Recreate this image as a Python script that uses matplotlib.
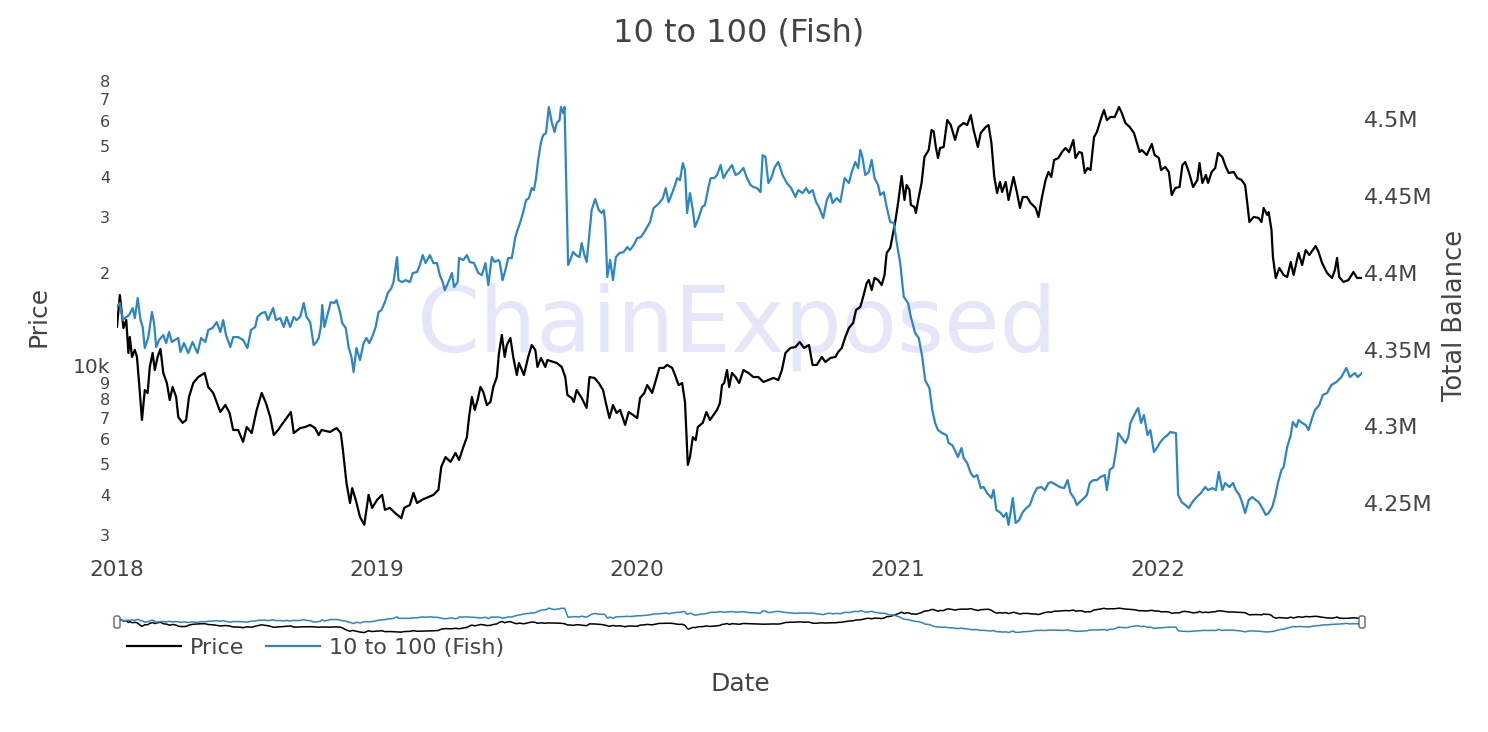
import numpy as np
import matplotlib
matplotlib.use("Agg")
import matplotlib.pyplot as plt
import matplotlib.dates as mdates
from matplotlib.ticker import FixedLocator, NullLocator, FixedFormatter
from matplotlib.patches import FancyBboxPatch
from matplotlib.lines import Line2D
from matplotlib.transforms import IdentityTransform, ScaledTranslation

# ---- data ----
START = np.datetime64("2018-01-01")

# days since 2018-01-01 / BTC price in USD
price_day = [
    0, 4, 9, 13, 16, 18, 21, 25, 28, 31, 35, 39,
    43, 46, 50, 53, 57, 61, 65, 70, 74, 78, 83, 86,
    92, 97, 101, 107, 114, 123, 128, 135, 145, 152, 158, 163,
    170, 177, 182, 189, 196, 203, 209, 215, 220, 226, 233, 238,
    244, 248, 257, 264, 271, 278, 283, 287, 299, 308, 314, 317,
    322, 327, 330, 335, 341, 347, 353, 358, 365, 372, 376, 383,
    390, 399, 403, 411, 416, 421, 428, 437, 444, 451, 455, 461,
    468, 475, 480, 486, 491, 494, 498, 502, 506, 510, 514, 519,
    524, 528, 533, 536, 540, 544, 547, 552, 556, 561, 564, 571,
    577, 582, 587, 590, 595, 601, 604, 613, 617, 624, 629, 632,
    638, 641, 645, 652, 659, 663, 670, 676, 682, 686, 691, 696,
    701, 706, 713, 718, 724, 730, 734, 740, 744, 751, 755, 761,
    767, 772, 779, 783, 788, 793, 797, 801, 804, 808, 812, 815,
    822, 827, 832, 837, 842, 846, 849, 852, 856, 859, 863, 868,
    873, 879, 886, 893, 900, 907, 914, 921, 928, 933, 938, 945,
    952, 958, 964, 971, 976, 982, 989, 994, 1001, 1008, 1012, 1017,
    1022, 1027, 1033, 1037, 1043, 1047, 1052, 1055, 1059, 1063, 1068, 1073,
    1077, 1080, 1085, 1088, 1092, 1096, 1099, 1101, 1105, 1108, 1112, 1114,
    1119, 1121, 1125, 1129, 1133, 1139, 1143, 1146, 1149, 1152, 1155, 1160,
    1165, 1170, 1176, 1181, 1188, 1193, 1198, 1202, 1208, 1212, 1219, 1223,
    1227, 1231, 1235, 1239, 1242, 1247, 1251, 1258, 1263, 1267, 1271, 1277,
    1282, 1289, 1293, 1298, 1303, 1307, 1311, 1315, 1321, 1326, 1331, 1336,
    1342, 1345, 1350, 1354, 1358, 1362, 1366, 1371, 1375, 1381, 1385, 1389,
    1394, 1400, 1406, 1410, 1415, 1421, 1427, 1432, 1435, 1438, 1445, 1452,
    1456, 1462, 1465, 1471, 1476, 1480, 1485, 1491, 1495, 1499, 1504, 1510,
    1516, 1519, 1523, 1528, 1531, 1536, 1541, 1545, 1551, 1556, 1560, 1567,
    1572, 1578, 1583, 1586, 1589, 1595, 1602, 1606, 1609, 1614, 1616, 1620,
    1622, 1626, 1631, 1637, 1642, 1647, 1651, 1658, 1663, 1668, 1673, 1682,
    1686, 1691, 1698, 1705, 1709, 1712, 1715, 1721, 1728, 1735, 1740, 1747,
]
price_usd = [
    13530, 17010, 13400, 14200, 11190, 12560, 10870, 11430, 10870, 9000, 6890, 8560,
    8380, 10110, 11190, 9890, 10870, 11510, 9680, 9000, 7960, 8750, 8140, 7040,
    6750, 6890, 8140, 9000, 9400, 9680, 8750, 8380, 7300, 7680, 7250, 6410,
    6410, 5880, 6550, 6270, 7410, 8380, 7790, 7040, 6180, 6410, 6750, 6990,
    7300, 6270, 6500, 6550, 6650, 6500, 6180, 6410, 6320, 6500, 6270, 5550,
    4370, 3780, 4210, 3870, 3420, 3230, 4010, 3650, 3870, 4010, 3600, 3650,
    3520, 3390, 3650, 3730, 4070, 3780, 3870, 3950, 4010, 4160, 4910, 5270,
    5090, 5430, 5160, 5670, 6090, 7040, 8140, 7410, 7960, 8750, 8440, 7680,
    7850, 8750, 9400, 11190, 12740, 10870, 11850, 12470, 10870, 9540, 10410, 9540,
    10870, 11850, 11430, 10110, 10790, 10110, 10630, 10480, 10410, 10110, 9400, 8260,
    8080, 7850, 8560, 8080, 7520, 9400, 9340, 9000, 8560, 7790, 6990, 7680,
    7250, 7410, 6650, 7300, 7150, 6990, 8080, 8380, 8870, 8380, 9000, 10040,
    10040, 10260, 10040, 9540, 8870, 9000, 7850, 4980, 5270, 6090, 5960, 6550,
    6750, 7300, 6890, 7150, 7410, 7790, 8870, 9000, 9890, 8750, 9680, 9400,
    9000, 9890, 9680, 9400, 9400, 9070, 9200, 9340, 9200, 9890, 11190, 11600,
    11680, 12110, 11600, 11850, 10260, 10260, 10870, 10480, 10790, 10870, 11270, 11600,
    12560, 13400, 13900, 15270, 15600, 16770, 18550, 18960, 17640, 19240, 18960, 18290,
    19660, 23050, 23900, 25880, 28840, 33080, 37140, 40230, 33810, 37680, 36340, 32610,
    32150, 30780, 34550, 38240, 46130, 48530, 56100, 55500, 49600, 45800, 49250, 49600,
    60280, 58140, 52180, 57310, 58990, 58140, 62490, 56100, 49600, 54900, 57310, 58140,
    51050, 39940, 35560, 38520, 35830, 38520, 33810, 39940, 35560, 31920, 34550, 34550,
    33080, 31920, 29910, 34550, 39070, 41400, 39940, 45150, 45800, 47830, 49250, 47830,
    52180, 45800, 47830, 47490, 41100, 42610, 42000, 53320, 55280, 61160, 64800, 60280,
    61600, 61600, 66220, 63420, 58990, 57310, 54900, 50320, 47830, 48530, 46810, 50690,
    46810, 45800, 42000, 42920, 41400, 35050, 36880, 37140, 43540, 44500, 41400, 37140,
    39070, 44180, 38240, 40510, 38240, 41400, 42610, 47490, 46130, 42920, 41100, 41400,
    39640, 39070, 37680, 33080, 28840, 29910, 29690, 28840, 31920, 30340, 31000, 27210,
    22390, 19240, 20680, 19660, 19380, 21600, 19660, 23050, 21130, 23560, 22720, 24240,
    23220, 21440, 19940, 19240, 20390, 22230, 19380, 18690, 18960, 20090, 19240, 19240,
]

# days since 2018-01-01 / total balance held by 10-100 BTC wallets
fish_day = [
    0, 4, 8, 13, 17, 22, 25, 29, 33, 36, 39, 44,
    49, 52, 55, 59, 65, 69, 73, 77, 81, 86, 89, 94,
    100, 106, 113, 118, 124, 128, 134, 140, 145, 149, 153, 159,
    163, 170, 177, 183, 188, 194, 197, 203, 208, 212, 219, 223,
    229, 234, 238, 243, 248, 252, 257, 262, 266, 271, 276, 280,
    283, 286, 288, 291, 296, 300, 305, 308, 313, 316, 321, 325,
    329, 332, 336, 341, 346, 350, 354, 358, 363, 367, 371, 376,
    380, 385, 388, 393, 395, 400, 405, 411, 415, 421, 425, 429,
    433, 439, 444, 449, 453, 457, 460, 465, 470, 473, 478, 480,
    486, 491, 495, 501, 507, 512, 517, 521, 526, 530, 535, 537,
    541, 545, 549, 554, 559, 562, 566, 570, 574, 578, 582, 585,
    588, 591, 595, 598, 602, 606, 610, 614, 617, 621, 623, 626,
    628, 633, 636, 640, 644, 649, 652, 656, 659, 663, 666, 671,
    676, 680, 683, 685, 688, 692, 696, 700, 705, 711, 716, 720,
    725, 730, 735, 740, 744, 748, 753, 758, 762, 766, 770, 774,
    779, 783, 786, 790, 794, 797, 800, 804, 808, 811, 816, 821,
    825, 830, 833, 838, 842, 847, 851, 856, 860, 863, 868, 873,
    879, 884, 889, 893, 898, 903, 906, 910, 914, 918, 923, 928,
    934, 940, 946, 952, 956, 962, 967, 971, 976, 981, 985, 991,
    996, 1001, 1004, 1010, 1015, 1021, 1027, 1031, 1036, 1040, 1043, 1046,
    1050, 1055, 1059, 1063, 1068, 1071, 1076, 1080, 1085, 1090, 1094, 1099,
    1104, 1110, 1114, 1120, 1125, 1130, 1134, 1140, 1144, 1148, 1152, 1158,
    1164, 1167, 1172, 1177, 1180, 1185, 1188, 1193, 1198, 1202, 1207, 1212,
    1216, 1221, 1227, 1230, 1234, 1240, 1244, 1248, 1251, 1257, 1261, 1266,
    1271, 1276, 1281, 1286, 1291, 1297, 1302, 1307, 1311, 1318, 1323, 1329,
    1334, 1338, 1343, 1347, 1351, 1357, 1361, 1365, 1370, 1375, 1380, 1386,
    1389, 1393, 1398, 1402, 1405, 1410, 1415, 1419, 1422, 1426, 1431, 1433,
    1437, 1441, 1446, 1450, 1455, 1460, 1464, 1469, 1474, 1478, 1486, 1489,
    1494, 1499, 1504, 1509, 1515, 1521, 1527, 1531, 1537, 1542, 1546, 1551,
    1555, 1561, 1566, 1570, 1575, 1579, 1583, 1588, 1593, 1598, 1602, 1607,
    1612, 1616, 1621, 1625, 1629, 1634, 1637, 1642, 1647, 1650, 1655, 1658,
    1663, 1668, 1672, 1677, 1681, 1687, 1692, 1698, 1704, 1711, 1718, 1725,
    1730, 1737, 1741, 1747,
]
fish_balance = [
    4377900, 4380300, 4369200, 4371200, 4372500, 4377000, 4370500, 4383500, 4369200, 4364700, 4351000, 4358100,
    4374400, 4367300, 4351600, 4356200, 4359400, 4354200, 4361400, 4354900, 4356200, 4357500, 4348400, 4354200,
    4347700, 4354900, 4347700, 4357500, 4354900, 4362700, 4364000, 4367900, 4361400, 4369200, 4359400, 4351600,
    4358100, 4358100, 4356200, 4351000, 4362700, 4364700, 4371200, 4373800, 4374400, 4369200, 4377000, 4369200,
    4370500, 4364700, 4371200, 4364700, 4371200, 4369200, 4371200, 4380300, 4371200, 4367900, 4352900, 4354900,
    4357500, 4364700, 4379000, 4364700, 4373800, 4380900, 4380300, 4382200, 4374400, 4367300, 4364000, 4351600,
    4345100, 4335400, 4351000, 4343200, 4354200, 4357500, 4354200, 4358100, 4364700, 4374400, 4375700, 4380900,
    4386800, 4390000, 4393900, 4410200, 4395200, 4393900, 4395200, 4393900, 4399800, 4400500, 4405000, 4411500,
    4406300, 4411500, 4406300, 4406300, 4398500, 4393900, 4388700, 4393900, 4399800, 4390700, 4393900, 4409600,
    4408300, 4411500, 4407000, 4406300, 4399800, 4398500, 4406300, 4392000, 4410200, 4407000, 4408300, 4407000,
    4395200, 4401800, 4409600, 4409600, 4423200, 4427800, 4433000, 4439500, 4447300, 4448600, 4455100, 4453800,
    4461600, 4473400, 4485100, 4489600, 4490900, 4507900, 4498100, 4491600, 4497500, 4499400, 4507900, 4504000,
    4507900, 4405000, 4408300, 4413500, 4411500, 4410200, 4419300, 4411500, 4407000, 4425800, 4440800, 4448000,
    4440800, 4438900, 4440800, 4433000, 4397200, 4408300, 4395200, 4410200, 4412800, 4413500, 4416700, 4414800,
    4418000, 4422600, 4423200, 4426500, 4429800, 4433000, 4442100, 4444100, 4446000, 4448600, 4455100, 4446000,
    4451900, 4457100, 4461600, 4460300, 4471400, 4466900, 4438900, 4451900, 4440800, 4429800, 4435600, 4442800,
    4444100, 4455800, 4461600, 4461600, 4463600, 4470100, 4461600, 4465600, 4468200, 4470100, 4463600, 4464900,
    4468200, 4461600, 4457100, 4455800, 4455100, 4452500, 4476600, 4475300, 4458400, 4461600, 4468800, 4472100,
    4463600, 4458400, 4455100, 4449300, 4453800, 4451900, 4455100, 4451900, 4453800, 4446000, 4442800, 4435600,
    4447300, 4451900, 4445400, 4448600, 4446000, 4461600, 4458400, 4465600, 4472100, 4468200, 4479900, 4475300,
    4463600, 4465600, 4473400, 4461600, 4457100, 4450600, 4452500, 4442800, 4433000, 4432400, 4420000, 4406300,
    4384200, 4380300, 4371200, 4360700, 4357500, 4345100, 4330100, 4324900, 4310600, 4302200, 4297600, 4295600,
    4294300, 4289100, 4287800, 4283300, 4280000, 4285900, 4279400, 4276100, 4269600, 4267000, 4268300, 4259800,
    4260500, 4256600, 4253300, 4258500, 4245500, 4243600, 4241000, 4243600, 4235800, 4253300, 4237100, 4239000,
    4244200, 4246800, 4248800, 4255300, 4259800, 4260500, 4258500, 4263100, 4263700, 4261800, 4260500, 4259800,
    4265000, 4256600, 4253300, 4248800, 4250800, 4253300, 4255300, 4263100, 4265000, 4265000, 4267000, 4268300,
    4258500, 4271600, 4273500, 4284600, 4295600, 4292400, 4289100, 4293000, 4302200, 4306100, 4310600, 4311900,
    4302200, 4307400, 4294300, 4297600, 4283300, 4286500, 4289800, 4292400, 4294300, 4296300, 4295600, 4255300,
    4250700, 4248800, 4246800, 4250700, 4254000, 4256600, 4260500, 4258500, 4259800, 4258500, 4270300, 4258500,
    4263100, 4260500, 4263100, 4258500, 4255300, 4250100, 4243600, 4252000, 4254000, 4252000, 4250700, 4246800,
    4242300, 4243600, 4247500, 4254000, 4263100, 4271600, 4273500, 4286500, 4294300, 4302800, 4299600, 4304100,
    4302200, 4300900, 4297600, 4305400, 4310600, 4313900, 4320400, 4321700, 4326900, 4328800, 4332100, 4338000,
    4332100, 4334700, 4332100, 4334700,
]

price_ticks = [3000, 4000, 5000, 6000, 7000, 8000, 9000, 10000,
               20000, 30000, 40000, 50000, 60000, 70000, 80000]
price_tick_labels = ["3", "4", "5", "6", "7", "8", "9", "10k",
                     "2", "3", "4", "5", "6", "7", "8"]
balance_ticks = [4250000, 4300000, 4350000, 4400000, 4450000, 4500000]
balance_tick_labels = ["4.25M", "4.3M", "4.35M", "4.4M", "4.45M", "4.5M"]

assert len(price_day) == len(price_usd)
assert len(fish_day) == len(fish_balance)

price_dates = START + np.array(price_day).astype("timedelta64[D]")
fish_dates = START + np.array(fish_day).astype("timedelta64[D]")

# ---- style ----
W, H = 1488, 732
TXT = "#444444"
BLUE = "#2b86c4"
plt.rcParams["font.family"] = ["DejaVu Sans"]

fig = plt.figure(figsize=(W / 100, H / 100), dpi=100)
fig.patch.set_facecolor("white")

# main plot
ax = fig.add_axes([117 / W, 1 - 550 / H, 1245 / W, 480 / H])
ax.set_yscale("log")
ax.plot(price_dates, price_usd, color="black", lw=1.6, zorder=2)
ax.set_ylim(2692, 86546)
ax.set_xlim(price_dates[0], price_dates[-1])

ax2 = ax.twinx()
ax2.plot(fish_dates, fish_balance, color=BLUE, lw=1.6, zorder=2)
ax2.set_ylim(4219500, 4532000)

# watermark behind the lines
ax.text(737 / W, 1 - 352 / H, "ChainExposed", transform=fig.transFigure,
        fontsize=65, color="#e6e6fa", ha="center", va="baseline", zorder=0)

for a in (ax, ax2):
    for s in a.spines.values():
        s.set_visible(False)

ax.yaxis.set_major_locator(FixedLocator(price_ticks))
ax.yaxis.set_major_formatter(FixedFormatter(price_tick_labels))
ax.yaxis.set_minor_locator(NullLocator())
ax.tick_params(axis="y", length=0, pad=5, labelsize=11.5, colors=TXT)
for lbl in ax.get_yticklabels():
    if lbl.get_text() == "10k":
        lbl.set_fontsize(14.5)
        lbl.set_transform(lbl.get_transform()
                          + ScaledTranslation(0, 2.5 / 72, fig.dpi_scale_trans))

ax.xaxis.set_major_locator(mdates.YearLocator())
ax.xaxis.set_major_formatter(mdates.DateFormatter("%Y"))
ax.tick_params(axis="x", length=0, pad=7, labelsize=15.5, colors=TXT)

ax2.yaxis.set_major_locator(FixedLocator(balance_ticks))
ax2.yaxis.set_major_formatter(FixedFormatter(balance_tick_labels))
ax2.tick_params(axis="y", length=0, pad=1.5, labelsize=16, colors=TXT)

# titles
fig.text(739 / W, 1 - 33 / H, "10 to 100 (Fish)", fontsize=23, color=TXT,
         ha="center", va="center")
fig.text(38 / W, 1 - 316 / H, "Price", fontsize=18, color=TXT,
         rotation=90, ha="center", va="center")
fig.text(1455 / W, 1 - 315 / H, "Total Balance", fontsize=18.5, color=TXT,
         rotation=90, ha="center", va="center")
fig.text(740 / W, 1 - 684 / H, "Date", fontsize=18, color=TXT,
         ha="center", va="center")

# range slider (mini copy of the full plot)
axr = fig.add_axes([117 / W, 1 - 634 / H, 1245 / W, 28 / H])
axr.set_yscale("log")
axr.plot(price_dates, price_usd, color="black", lw=1.1)
axr.set_ylim(2692, 86546)
axr.set_xlim(price_dates[0], price_dates[-1])
axr2 = axr.twinx()
axr2.plot(fish_dates, fish_balance, color=BLUE, lw=1.1)
axr2.set_ylim(4219500, 4532000)
axr.axis("off")
axr2.axis("off")

for hx in (117, 1362):
    fig.add_artist(FancyBboxPatch((hx - 3, H - 622 - 6), 6, 12,
                                  boxstyle="round,pad=0,rounding_size=2",
                                  transform=IdentityTransform(),
                                  fc="white", ec="#666666", lw=1.0))

# legend
handles = [Line2D([], [], color="black", lw=1.6),
           Line2D([], [], color=BLUE, lw=1.6)]
fig.legend(handles, ["Price", "10 to 100 (Fish)"], loc="center left",
           bbox_to_anchor=(127 / W, 1 - 648 / H), ncol=2, frameon=False,
           fontsize=16, labelcolor=TXT, handlelength=2.45,
           handletextpad=0.4, columnspacing=0.95, borderpad=0,
           borderaxespad=0)

fig.savefig("out.png", dpi=100)
